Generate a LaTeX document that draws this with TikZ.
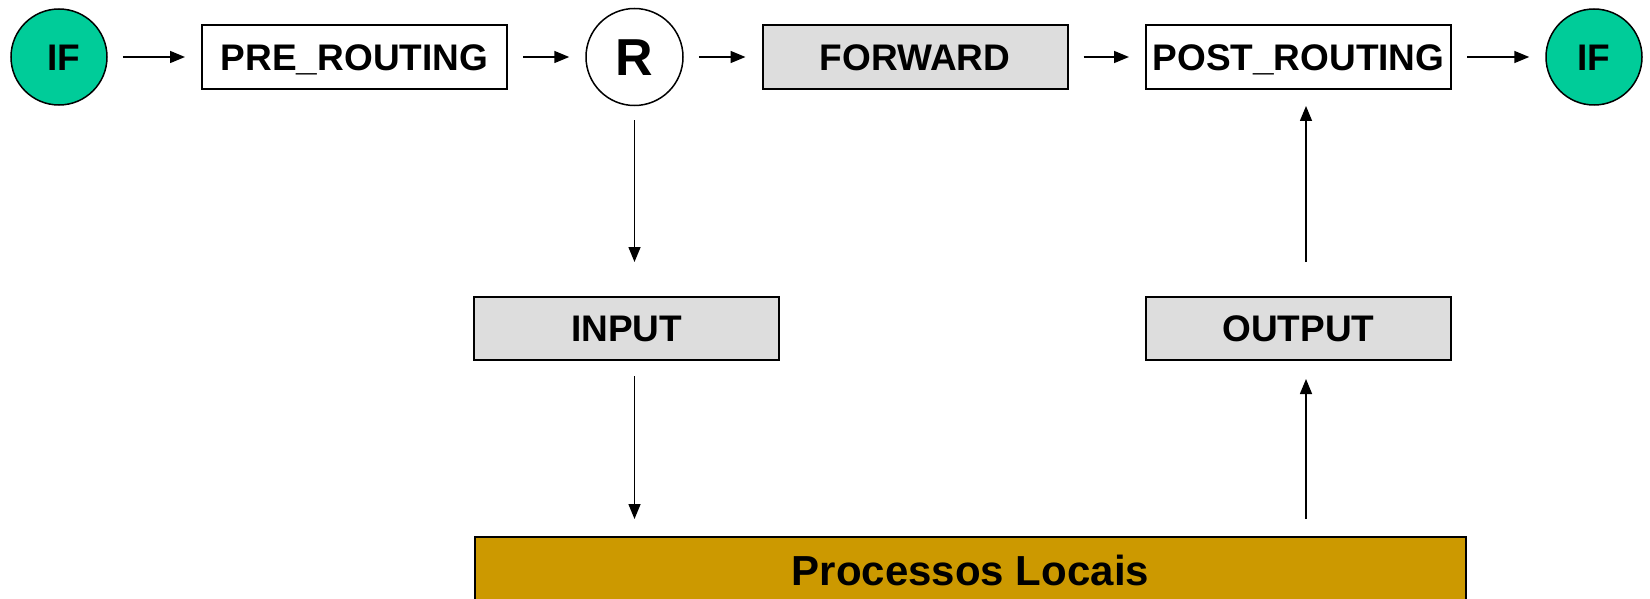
\documentclass[tikz,border=0pt]{standalone}
\usepackage{fontspec}
\setmainfont{Liberation Sans}
\usetikzlibrary{arrows.meta}
\definecolor{ifgreen}{RGB}{0,204,153}
\definecolor{boxgray}{RGB}{221,221,221}
\definecolor{procgold}{RGB}{204,153,0}
\begin{document}
\begin{tikzpicture}[x=1pt,y=-1pt,
  chainbox/.style={draw=black, line width=2pt, minimum width=305pt, minimum height=64pt,
    inner sep=0pt, font=\fontsize{37}{44}\selectfont\bfseries, text height=26.5pt, text depth=0pt},
  graybox/.style={chainbox, fill=boxgray},
  ifnode/.style={circle, draw=black, line width=1.5pt, fill=ifgreen, minimum size=96pt,
    inner sep=0pt, font=\fontsize{37}{44}\selectfont\bfseries, text height=26.5pt, text depth=0pt},
  rnode/.style={circle, draw=black, line width=1.5pt, fill=white, minimum size=97pt,
    inner sep=0pt, font=\fontsize{52}{60}\selectfont\bfseries, text height=37pt, text depth=0pt},
  arr/.style={line width=1.5pt, -{Triangle[length=15pt,width=12pt]}},
  harr/.style={arr, shorten <=15pt, shorten >=16pt}]
\useasboundingbox (0,0) rectangle (1650,599);
\clip (0,0) rectangle (1650,599);
\node[ifnode] (ifl) at (59,57) {\hspace*{9pt}IF};
\node[chainbox] (pre) at (354.5,57) {PRE\_ROUTING};
\node[rnode] (R) at (634.5,57) {R};
\node[graybox] (fwd) at (915,57) {FORWARD};
\node[chainbox] (post) at (1298.5,57) {POST\_ROUTING};
\node[ifnode] (ifr) at (1594,57) {IF};
\node[graybox, minimum height=63pt] (input) at (626.5,328.5) {INPUT};
\node[graybox, minimum height=63pt] (output) at (1298.5,328.5) {OUTPUT};
\node[draw=black, line width=2pt, fill=procgold, minimum width=991pt, minimum height=100pt,
  inner sep=0pt] (proc) at (970.5,587) {};
\node[font=\fontsize{42}{50}\selectfont\bfseries, text height=30pt, text depth=0pt, inner sep=0pt]
  (proctext) at (970.5,570) {Processos Locais};
\coordinate (ux) at (1306,0);
\draw[harr] (ifl) -- (pre);
\draw[harr] (pre) -- (R);
\draw[harr] (R) -- (fwd);
\draw[harr] (fwd) -- (post);
\draw[harr] (post) -- (ifr);
\draw[arr, shorten <=14pt, shorten >=34pt] (R.south) -- (input.north -| R.center);
\draw[arr, shorten <=15pt, shorten >=17pt] (input.south -| R.center) -- (proc.north -| R.center);
\draw[arr, shorten <=17pt, shorten >=18pt] (proc.north -| ux) -- (output.south -| ux);
\draw[arr, shorten <=34pt, shorten >=16pt] (output.north -| ux) -- (post.south -| ux);
\end{tikzpicture}
\end{document}
